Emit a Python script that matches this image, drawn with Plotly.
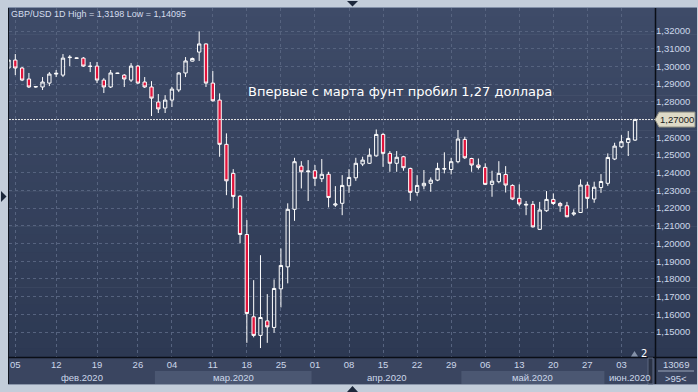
import plotly.graph_objects as go

# ---------------- data ----------------
dates = [
    "2020-02-04", "2020-02-05", "2020-02-06", "2020-02-07", "2020-02-09", "2020-02-10", "2020-02-11",
    "2020-02-12", "2020-02-13", "2020-02-14", "2020-02-16", "2020-02-17", "2020-02-18", "2020-02-19",
    "2020-02-20", "2020-02-21", "2020-02-23", "2020-02-24", "2020-02-25", "2020-02-26", "2020-02-27",
    "2020-02-28",
    "2020-03-02", "2020-03-03", "2020-03-04", "2020-03-05", "2020-03-06", "2020-03-08", "2020-03-09",
    "2020-03-10", "2020-03-11", "2020-03-12", "2020-03-13", "2020-03-16", "2020-03-17", "2020-03-18",
    "2020-03-19", "2020-03-20", "2020-03-23", "2020-03-24", "2020-03-25", "2020-03-26", "2020-03-27",
    "2020-03-30", "2020-03-31",
    "2020-04-01", "2020-04-02", "2020-04-03", "2020-04-06", "2020-04-07", "2020-04-08", "2020-04-09",
    "2020-04-10", "2020-04-13", "2020-04-14", "2020-04-15", "2020-04-16", "2020-04-17", "2020-04-20",
    "2020-04-21", "2020-04-22", "2020-04-23", "2020-04-24", "2020-04-27", "2020-04-28", "2020-04-29",
    "2020-04-30",
    "2020-05-01", "2020-05-04", "2020-05-05", "2020-05-06", "2020-05-07", "2020-05-08", "2020-05-11",
    "2020-05-12", "2020-05-13", "2020-05-14", "2020-05-15", "2020-05-18", "2020-05-19", "2020-05-20",
    "2020-05-21", "2020-05-22", "2020-05-25", "2020-05-26", "2020-05-27", "2020-05-28", "2020-05-29",
    "2020-06-01", "2020-06-02", "2020-06-03", "2020-06-04", "2020-06-05",
]

opens = [
    1.2991, 1.3036, 1.2991, 1.2929, 1.2884, 1.2884, 1.2906, 1.2957, 1.2951, 1.3050, 1.3048,
    1.3047, 1.3002, 1.3002, 1.2923, 1.2884, 1.2960, 1.2951, 1.2923, 1.3002, 1.2912, 1.2884,
    1.2799, 1.2765, 1.2810, 1.2867, 1.2963, 1.3030, 1.3081, 1.3127, 1.2906, 1.2810, 1.2560,
    1.2396, 1.2267, 1.2051, 1.1586, 1.1481, 1.1563, 1.1526, 1.1744, 1.1868, 1.2193, 1.2437,
    1.2405,
    1.2411, 1.2366, 1.2391, 1.2217, 1.2227, 1.2326, 1.2371, 1.2449, 1.2453, 1.2495, 1.2616,
    1.2509, 1.2453, 1.2490, 1.2424, 1.2289, 1.2326, 1.2340, 1.2358, 1.2420, 1.2418, 1.2462,
    1.2588, 1.2480, 1.2443, 1.2430, 1.2334, 1.2349, 1.2390, 1.2328, 1.2255, 1.2217, 1.2221,
    1.2080, 1.2185, 1.2249, 1.2226, 1.2213, 1.2166, 1.2175, 1.2330, 1.2251, 1.2316,
    1.2340, 1.2477, 1.2546, 1.2571, 1.2584,
]

highs = [
    1.3047, 1.3070, 1.2997, 1.2963, 1.2889, 1.2940, 1.2968, 1.2980, 1.3070, 1.3064, 1.3050,
    1.3053, 1.3025, 1.3025, 1.2934, 1.2980, 1.2964, 1.2957, 1.3019, 1.3008, 1.2940, 1.2917,
    1.2844, 1.2838, 1.2884, 1.2968, 1.3053, 1.3050, 1.3198, 1.3130, 1.2974, 1.2848, 1.2622,
    1.2420, 1.2273, 1.2132, 1.1793, 1.1934, 1.1714, 1.1797, 1.1972, 1.2227, 1.2484, 1.2465,
    1.2471,
    1.2443, 1.2477, 1.2405, 1.2324, 1.2386, 1.2420, 1.2484, 1.2490, 1.2537, 1.2644, 1.2625,
    1.2522, 1.2522, 1.2495, 1.2428, 1.2386, 1.2415, 1.2373, 1.2456, 1.2515, 1.2484, 1.2641,
    1.2603, 1.2484, 1.2480, 1.2453, 1.2411, 1.2465, 1.2437, 1.2334, 1.2334, 1.2240, 1.2240,
    1.2235, 1.2296, 1.2283, 1.2235, 1.2235, 1.2193, 1.2362, 1.2349, 1.2349, 1.2392,
    1.2509, 1.2569, 1.2612, 1.2635, 1.2705,
]

lows = [
    1.2980, 1.2951, 1.2917, 1.2878, 1.2880, 1.2867, 1.2889, 1.2940, 1.2940, 1.3002, 1.3044,
    1.2997, 1.2968, 1.2906, 1.2850, 1.2878, 1.2958, 1.2884, 1.2912, 1.2900, 1.2878, 1.2720,
    1.2737, 1.2737, 1.2771, 1.2855, 1.2940, 1.3028, 1.3031, 1.2884, 1.2801, 1.2490, 1.2273,
    1.2200, 1.2001, 1.1439, 1.1470, 1.14095, 1.1439, 1.1496, 1.1639, 1.1775, 1.2128, 1.2311,
    1.2240,
    1.2324, 1.2347, 1.2204, 1.2207, 1.2160, 1.2286, 1.2354, 1.2437, 1.2450, 1.2490, 1.2433,
    1.2405, 1.2405, 1.2411, 1.2241, 1.2270, 1.2306, 1.2292, 1.2352, 1.2396, 1.2390, 1.2453,
    1.2477, 1.2405, 1.2418, 1.2330, 1.2264, 1.2340, 1.2288, 1.2245, 1.2211, 1.2160, 1.2090,
    1.2076, 1.2179, 1.2217, 1.2179, 1.2148, 1.2156, 1.2172, 1.2198, 1.2230, 1.2286,
    1.2326, 1.2471, 1.2540, 1.2494, 1.2579,
]

closes = [
    1.3036, 1.2991, 1.2923, 1.2884, 1.2886, 1.2912, 1.2957, 1.2961, 1.3047, 1.3052, 1.3046,
    1.3002, 1.3000, 1.2923, 1.2884, 1.2963, 1.2962, 1.2929, 1.3002, 1.2906, 1.2884, 1.2821,
    1.2760, 1.2810, 1.2872, 1.2963, 1.3031, 1.3045, 1.3127, 1.2906, 1.2806, 1.2560, 1.2354,
    1.2266, 1.2051, 1.1605, 1.1481, 1.1582, 1.1529, 1.1746, 1.1876, 1.2193, 1.2462, 1.2405,
    1.2409,
    1.2368, 1.2391, 1.2260, 1.2223, 1.2328, 1.2373, 1.2453, 1.2471, 1.2499, 1.2616, 1.2509,
    1.2453, 1.2487, 1.2428, 1.2289, 1.2328, 1.2340, 1.2358, 1.2424, 1.2423, 1.2462, 1.2590,
    1.2484, 1.2443, 1.2430, 1.2334, 1.2352, 1.2396, 1.2330, 1.2251, 1.2223, 1.2221, 1.2094,
    1.2189, 1.2249, 1.2226, 1.2213, 1.2151, 1.2172, 1.2330, 1.2255, 1.2318, 1.2350,
    1.2486, 1.2550, 1.2575, 1.2593, 1.2700,
]

tick_dates = [
    "2020-02-05", "2020-02-12", "2020-02-19", "2020-02-26", "2020-03-04", "2020-03-11",
    "2020-03-18", "2020-03-25", "2020-04-01", "2020-04-08", "2020-04-15", "2020-04-22",
    "2020-04-29", "2020-05-06", "2020-05-13", "2020-05-20", "2020-05-27", "2020-06-03",
]
tick_labels = [d[-2:] for d in tick_dates]

price_ticks = [1.15, 1.16, 1.17, 1.18, 1.19, 1.20, 1.21, 1.22, 1.23, 1.24, 1.25, 1.26,
               1.28, 1.29, 1.30, 1.31, 1.32]

month_names = {"02": "фев.2020", "03": "мар.2020", "04": "апр.2020",
               "05": "май.2020", "06": "июн.2020"}

symbol = "GBP/USD"
timeframe = "1D"
headline = "Впервые с марта фунт пробил 1,27 доллара"
bar_count_label = "13069"
zoom_label = ">95<"

# ---------------- geometry / style ----------------
W, H = 698, 392
ML, MR, MT, MB = 9, 43, 8, 35
PW, PH = W - ML - MR, H - MT - MB
X_RANGE = [0.075, 94.93]
Y_RANGE = [1.1359, 1.3330]

FRAME = "#c3cdda"
TXT = "#ccd7ea"
GRID = "#56637f"


def px(X):
    return (X - ML) / PW


def py(Y):
    return (H - MB - Y) / PH


def pos_to_X(pos):
    return ML + (pos - X_RANGE[0]) * PW / (X_RANGE[1] - X_RANGE[0])


def price_to_py(p):
    return (p - Y_RANGE[0]) / (Y_RANGE[1] - Y_RANGE[0])


def fmt(v, n=5):
    return f"{v:.{n}f}".replace(".", ",")


shapes = []

# gradient background over plot + price scale
top_rgb = (62, 75, 104)
bot_rgb = (45, 57, 83)
N = 40
for i in range(N):
    t = (i + 0.5) / N
    c = tuple(round(top_rgb[k] + (bot_rgb[k] - top_rgb[k]) * t) for k in range(3))
    Y0 = MT + i * PH / N
    Y1 = MT + (i + 1) * PH / N + 0.6
    shapes.append(dict(type="rect", xref="paper", yref="paper", layer="below",
                       x0=px(8), x1=px(697), y0=py(Y1), y1=py(Y0),
                       fillcolor="rgb(%d,%d,%d)" % c, line=dict(width=0)))

# date rows background
shapes.append(dict(type="rect", xref="paper", yref="paper", layer="below",
                   x0=px(8), x1=px(697), y0=py(384), y1=py(357),
                   fillcolor="#3a4560", line=dict(width=0)))

# month bands
month_first = {}
for i, d in enumerate(dates):
    m = d[5:7]
    if m not in month_first:
        month_first[m] = i
months = list(month_first.keys())
annotations = []
for k, m in enumerate(months):
    x_start = pos_to_X(month_first[m] - 0.5)
    x_end = pos_to_X(month_first[months[k + 1]] - 0.5) if k + 1 < len(months) else pos_to_X(X_RANGE[1])
    x_start = max(x_start, ML)
    x_end = min(x_end, ML + PW)
    if k % 2 == 1:
        shapes.append(dict(type="rect", xref="paper", yref="paper", layer="below",
                           x0=px(x_start), x1=px(x_end), y0=py(384), y1=py(371),
                           fillcolor="#4b5772", line=dict(width=0)))
    annotations.append(dict(xref="paper", yref="paper", x=px((x_start + x_end) / 2), y=py(377.5),
                            text=month_names[m], showarrow=False, xanchor="center", yanchor="middle",
                            font=dict(family="Liberation Sans", size=9.5, color=TXT)))

# border lines
shapes += [
    dict(type="line", xref="paper", yref="paper", layer="above",
         x0=px(8.5), x1=px(8.5), y0=py(384), y1=py(8), line=dict(color="#10151f", width=1)),
    dict(type="line", xref="paper", yref="paper", layer="above",
         x0=px(8), x1=px(697), y0=py(7.5), y1=py(7.5), line=dict(color="#8290a8", width=1)),
    dict(type="line", xref="paper", yref="paper", layer="above",
         x0=px(655.5), x1=px(655.5), y0=py(384), y1=py(8), line=dict(color="#0a0e16", width=1.5)),
    dict(type="line", xref="paper", yref="paper", layer="above",
         x0=px(8), x1=px(697), y0=py(357.5), y1=py(357.5), line=dict(color="#0a0e16", width=1.5)),
    dict(type="line", xref="paper", yref="paper", layer="above",
         x0=px(8), x1=px(697), y0=py(384.5), y1=py(384.5), line=dict(color="#8a96aa", width=1)),
]

# scroll thumb in date rows
shapes.append(dict(type="rect", xref="paper", yref="paper", layer="above",
                   x0=px(648), x1=px(653), y0=py(384), y1=py(358),
                   fillcolor="#2a3245", line=dict(color="#5d6982", width=1)))

# separator in bottom-right box
shapes.append(dict(type="line", xref="paper", yref="paper", layer="above",
                   x0=px(658), x1=px(694), y0=py(371), y1=py(371),
                   line=dict(color="#9aa6ba", width=1)))

# frame triangles
def tri(points, color):
    p = "M " + " L ".join(f"{px(a):.5f},{py(b):.5f}" for a, b in points) + " Z"
    return dict(type="path", xref="paper", yref="paper", layer="above", path=p,
                fillcolor=color, line=dict(width=0))


shapes.append(tri([(347, 1), (358, 1), (352.5, 6.5)], "#1c273b"))
shapes.append(tri([(347, 392), (358, 392), (352.5, 386)], "#1c273b"))
shapes.append(tri([(1, 191), (1, 202), (6.5, 196.5)], "#1c273b"))
shapes.append(tri([(631, 356.5), (638, 356.5), (634.5, 351)], "#8693a9"))

# last price dotted line
last = closes[-1]
shapes.append(dict(type="line", xref="paper", yref="paper", layer="above",
                   x0=0, x1=1, y0=price_to_py(last), y1=price_to_py(last),
                   line=dict(color="#e6e6e6", width=1, dash="2px,1px")))

# last price box with pointer
lp = price_to_py(last)
hpx = 7.5 / PH
p = (f"M {px(655):.5f},{lp:.5f} L {px(659):.5f},{lp + hpx:.5f} L {px(695):.5f},{lp + hpx:.5f} "
     f"L {px(695):.5f},{lp - hpx:.5f} L {px(659):.5f},{lp - hpx:.5f} Z")
shapes.append(dict(type="path", xref="paper", yref="paper", layer="above", path=p,
                   fillcolor="#dedac7", line=dict(color="#8d8c80", width=1)))

annotations += [
    dict(xref="paper", yref="paper", x=px(677), y=lp, text=fmt(last), showarrow=False,
         xanchor="center", yanchor="middle",
         font=dict(family="Liberation Sans", size=9.5, color="#1b1b1b")),
    dict(xref="paper", yref="paper", x=px(9), y=py(14), xanchor="left", yanchor="middle",
         text=f"{symbol} {timeframe} High = {fmt(max(highs), 5).rstrip('0')} Low = {fmt(min(lows), 5).rstrip('0')}",
         showarrow=False, font=dict(family="Liberation Sans", size=9, color="#d5dded")),
    dict(xref="paper", yref="paper", x=px(246), y=py(92), xanchor="left", yanchor="middle",
         text=headline, showarrow=False,
         font=dict(family="DejaVu Sans", size=13, color="#ffffff")),
    dict(xref="paper", yref="paper", x=px(644), y=py(353), xanchor="center", yanchor="middle",
         text="2", showarrow=False,
         font=dict(family="DejaVu Sans", size=10, color="#ffffff")),
    dict(xref="paper", yref="paper", x=px(676), y=py(364), xanchor="center", yanchor="middle",
         text=bar_count_label, showarrow=False,
         font=dict(family="Liberation Sans", size=9.5, color=TXT)),
    dict(xref="paper", yref="paper", x=px(676), y=py(378), xanchor="center", yanchor="middle",
         text=zoom_label, showarrow=False,
         font=dict(family="Liberation Sans", size=9.5, color=TXT)),
]

fig = go.Figure()
fig.add_trace(go.Candlestick(
    x=dates, open=opens, high=highs, low=lows, close=closes,
    increasing=dict(line=dict(color="#ffffff", width=1), fillcolor="rgba(0,0,0,0)"),
    decreasing=dict(line=dict(color="#ffffff", width=1), fillcolor="#e2143c"),
    hoverinfo="skip", showlegend=False,
))

fig.update_layout(
    width=W, height=H, autosize=False,
    margin=dict(l=ML, r=MR, t=MT, b=MB, pad=0),
    paper_bgcolor=FRAME, plot_bgcolor="rgba(0,0,0,0)",
    separators=", ",
    showlegend=False, hovermode=False,
    shapes=shapes, annotations=annotations,
    xaxis=dict(type="category", range=X_RANGE, tickvals=tick_dates, ticktext=tick_labels,
               showgrid=True, gridcolor=GRID, griddash="3px,3px", gridwidth=1,
               ticks="", showline=False, zeroline=False, fixedrange=True,
               rangeslider=dict(visible=False),
               tickfont=dict(family="Liberation Sans", size=9.5, color=TXT)),
    yaxis=dict(side="right", range=Y_RANGE, tickvals=price_ticks, tickformat=".5f",
               showgrid=True, gridcolor=GRID, griddash="3px,3px", gridwidth=1,
               ticks="", showline=False, zeroline=False, fixedrange=True,
               tickfont=dict(family="Liberation Sans", size=9.5, color=TXT)),
)

fig.write_html("out.html", config={"displayModeBar": False})
